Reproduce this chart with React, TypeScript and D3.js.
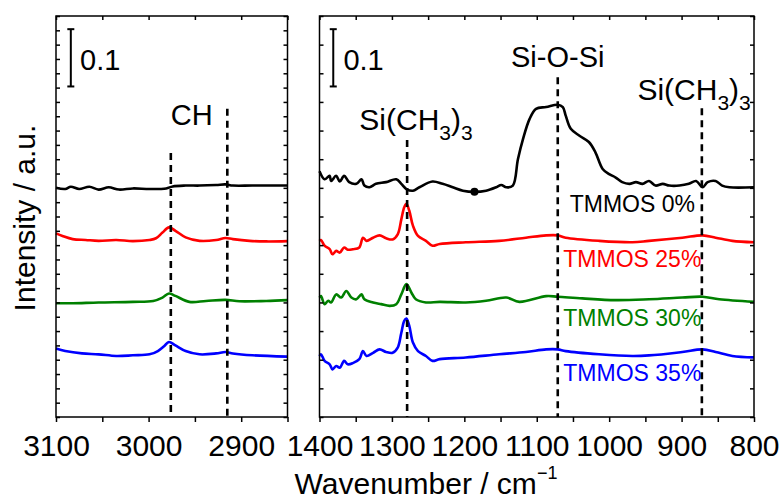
import React, { useRef, useEffect } from 'react';
import * as d3 from 'd3';

// Spectra, [wavenumber, intensity (offset)]
const leftBlack = [
  [3100, 0.4], [3090, 0.398], [3084, 0.402], [3075, 0.398], [3064, 0.402], [3054, 0.397],
  [3043, 0.401], [3032, 0.397], [3017, 0.399], [2999, 0.398], [2981, 0.399], [2974, 0.4025],
  [2960, 0.404], [2945, 0.404], [2927, 0.405], [2917, 0.406], [2909, 0.404], [2888, 0.404], [2850, 0.404],
];
const leftRed = [
  [3100, 0.3205], [3093, 0.316], [3082, 0.3105], [3068, 0.309], [3054, 0.3075], [3035, 0.309],
  [3017, 0.307], [2999, 0.309], [2992, 0.312], [2985, 0.322], [2978, 0.331], [2971, 0.325],
  [2960, 0.3135], [2945, 0.3075], [2927, 0.309], [2917, 0.3125], [2909, 0.3105], [2891, 0.3075],
  [2873, 0.3065], [2850, 0.307],
];
const leftGreen = [
  [3100, 0.1986], [3082, 0.1986], [3054, 0.2], [3017, 0.201], [2995, 0.2026], [2985, 0.2085],
  [2978, 0.2156], [2971, 0.2114], [2956, 0.201], [2938, 0.2026], [2917, 0.2044], [2902, 0.202],
  [2873, 0.2026], [2850, 0.204],
];
const leftBlue = [
  [3100, 0.1194], [3090, 0.1152], [3072, 0.111], [3054, 0.1094], [3035, 0.1065], [3017, 0.1077],
  [2999, 0.1094], [2990, 0.1152], [2983, 0.124], [2978, 0.131], [2971, 0.125], [2960, 0.1152],
  [2945, 0.1094], [2927, 0.111], [2917, 0.1135], [2909, 0.111], [2888, 0.1077], [2850, 0.1054],
];

const rightBlack = [
  [1400, 0.429], [1393, 0.415], [1386, 0.421], [1384, 0.412], [1377, 0.421], [1372, 0.411],
  [1366, 0.421], [1359, 0.41], [1349, 0.407], [1342, 0.415], [1338, 0.404], [1331, 0.401],
  [1322, 0.407], [1308, 0.41], [1294, 0.415], [1287, 0.407], [1280, 0.398], [1271, 0.395],
  [1262, 0.401], [1244, 0.411], [1230, 0.407], [1216, 0.401], [1202, 0.395], [1186, 0.393],
  [1170, 0.395], [1156, 0.401], [1149, 0.405], [1142, 0.401], [1133, 0.404], [1126, 0.45],
  [1119, 0.485], [1110, 0.52], [1101, 0.538], [1087, 0.541], [1071, 0.545], [1064, 0.541],
  [1060, 0.526], [1053, 0.503], [1041, 0.491], [1028, 0.48], [1019, 0.462], [1009, 0.433],
  [1000, 0.424], [991, 0.418], [982, 0.41], [972, 0.407], [963, 0.41], [954, 0.407],
  [945, 0.412], [936, 0.404], [926, 0.407], [917, 0.404], [903, 0.404], [890, 0.407],
  [880, 0.412], [871, 0.401], [864, 0.41], [853, 0.412], [844, 0.404], [834, 0.401], [800, 0.401],
];
const rightRed = [
  [1400, 0.3075], [1398, 0.309], [1393, 0.299], [1386, 0.293], [1382, 0.284], [1377, 0.29],
  [1372, 0.287], [1366, 0.296], [1361, 0.292], [1354, 0.293], [1345, 0.296], [1340, 0.313],
  [1335, 0.3075], [1326, 0.313], [1317, 0.317], [1308, 0.312], [1299, 0.31], [1292, 0.319],
  [1287, 0.345], [1283, 0.366], [1280, 0.372], [1276, 0.36], [1271, 0.334], [1264, 0.316],
  [1253, 0.3075], [1244, 0.299], [1234, 0.302], [1198, 0.305], [1152, 0.3075], [1115, 0.313],
  [1087, 0.317], [1071, 0.317], [1060, 0.313], [1014, 0.3075], [968, 0.305], [945, 0.3075],
  [899, 0.313], [871, 0.317], [853, 0.313], [830, 0.3075], [800, 0.305],
];
const rightGreen = [
  [1400, 0.2085], [1398, 0.211], [1393, 0.197], [1388, 0.203], [1384, 0.2], [1377, 0.214],
  [1370, 0.2085], [1363, 0.22], [1356, 0.2085], [1349, 0.2055], [1342, 0.214], [1338, 0.2055],
  [1326, 0.2], [1315, 0.197], [1303, 0.194], [1294, 0.197], [1287, 0.214], [1280, 0.232],
  [1273, 0.217], [1267, 0.2055], [1253, 0.2], [1234, 0.201], [1198, 0.2], [1170, 0.203],
  [1142, 0.2085], [1124, 0.201], [1087, 0.211], [1071, 0.21], [1037, 0.207], [991, 0.204],
  [945, 0.2055], [899, 0.2085], [871, 0.21], [848, 0.2055], [800, 0.201],
];
const rightBlue = [
  [1400, 0.1065], [1398, 0.1095], [1393, 0.098], [1386, 0.092], [1382, 0.083], [1377, 0.089],
  [1372, 0.086], [1366, 0.098], [1361, 0.092], [1354, 0.094], [1345, 0.101], [1340, 0.115],
  [1335, 0.1065], [1326, 0.112], [1317, 0.118], [1308, 0.1135], [1299, 0.112], [1292, 0.121],
  [1287, 0.147], [1283, 0.168], [1280, 0.172], [1276, 0.159], [1271, 0.13], [1264, 0.115],
  [1253, 0.1065], [1244, 0.098], [1234, 0.101], [1198, 0.104], [1152, 0.1095], [1115, 0.1135],
  [1087, 0.118], [1071, 0.118], [1060, 0.115], [1014, 0.1095], [968, 0.1065], [945, 0.1075],
  [899, 0.1135], [871, 0.118], [853, 0.1135], [830, 0.1065], [800, 0.104],
];

const seriesNames = ['TMMOS 0%', 'TMMOS 25%', 'TMMOS 30%', 'TMMOS 35%'];
const seriesColors = ['#000000', '#ff0000', '#008000', '#0000ff'];
const seriesLabelY = [0.358, 0.262, 0.158, 0.062];

// dashed guide lines [wavenumber, top]
const leftGuides = [[2976, 0.461], [2915, 0.538]];
const rightGuides = [[1279, 0.4835], [1071, 0.593], [872, 0.539]];

// stray marker on the 0% trace
const dotPoint = [1186, 0.393];

const FONT = 'Liberation Sans, Arial, Helvetica, sans-serif';

const App = () => {
  const chartRef = useRef(null);

  useEffect(() => {
    const svg = d3.select(chartRef.current);
    svg.selectAll('*').remove();

    const top = 16;
    const bottom = 417;
    const y = d3.scaleLinear().domain([0, 0.7]).range([bottom, top]);
    const xLeft = d3.scaleLinear().domain([3100, 2850]).range([56, 287.5]);
    const xRight = d3.scaleLinear().domain([1400, 800]).range([319.5, 754]);

    const line = (x) =>
      d3.line().x((d) => x(d[0])).y((d) => y(d[1])).curve(d3.curveCatmullRom.alpha(0.5));

    const drawPanel = (x, xTicks, yStep, traces, guides) => {
      const [x0, x1] = x.range();
      const g = svg.append('g');

      // traces
      traces.forEach((t, i) => {
        g.append('path')
          .datum(t)
          .attr('d', line(x))
          .attr('fill', 'none')
          .attr('stroke', seriesColors[i])
          .attr('stroke-width', 2.6)
          .attr('stroke-linejoin', 'round');
      });

      // dashed guides
      guides.forEach((d) => {
        g.append('line')
          .attr('x1', x(d[0])).attr('x2', x(d[0]))
          .attr('y1', y(d[1])).attr('y2', bottom)
          .attr('stroke', '#000')
          .attr('stroke-width', 2.6)
          .attr('stroke-dasharray', '7,5');
      });

      // frame
      g.append('rect')
        .attr('x', x0).attr('y', top)
        .attr('width', x1 - x0).attr('height', bottom - top)
        .attr('fill', 'none').attr('stroke', '#000').attr('stroke-width', 1.5);

      const yTicks = d3.range(0, 0.7001, yStep);

      const bx = g.append('g').attr('transform', `translate(0,${bottom})`)
        .call(d3.axisBottom(x).tickValues(xTicks).tickSize(5).tickPadding(13)
          .tickFormat((d) => (d % 100 === 0 ? d : '')));
      bx.selectAll('text').style('font-family', FONT).style('font-size', '30px').attr('fill', '#000');

      g.append('g').attr('transform', `translate(0,${top})`)
        .call(d3.axisTop(x).tickValues(xTicks).tickSize(-4).tickFormat(''));
      g.append('g').attr('transform', `translate(${x0},0)`)
        .call(d3.axisLeft(y).tickValues(yTicks).tickSize(-4).tickFormat(''));
      g.append('g').attr('transform', `translate(${x1},0)`)
        .call(d3.axisRight(y).tickValues(yTicks).tickSize(-4).tickFormat(''));

      g.selectAll('.domain').remove();
      g.selectAll('.tick line').attr('stroke', '#000').attr('stroke-width', 1.5);
      return g;
    };

    const left = drawPanel(xLeft, d3.range(3100, 2849, -50), 0.025,
      [leftBlack, leftRed, leftGreen, leftBlue], leftGuides);
    const right = drawPanel(xRight, d3.range(1400, 799, -50), 0.05,
      [rightBlack, rightRed, rightGreen, rightBlue], rightGuides);

    right.append('circle')
      .attr('cx', xRight(dotPoint[0])).attr('cy', y(dotPoint[1])).attr('r', 4).attr('fill', '#000');

    // 0.1 scale bars
    const scaleBar = (g, x, xb, xt) => {
      const yb = y(0.577);
      const yt = y(0.677);
      const px = x(xb);
      g.append('line').attr('x1', px).attr('x2', px).attr('y1', yb).attr('y2', yt)
        .attr('stroke', '#000').attr('stroke-width', 2);
      [yb, yt].forEach((v) => {
        g.append('line').attr('x1', px - 3.5).attr('x2', px + 3.5).attr('y1', v).attr('y2', v)
          .attr('stroke', '#000').attr('stroke-width', 2);
      });
      g.append('text').attr('x', x(xt)).attr('y', y(0.606))
        .style('font-family', FONT).style('font-size', '29px').text('0.1');
    };
    scaleBar(left, xLeft, 3084, 3074);
    scaleBar(right, xRight, 1381, 1367);

    // peak labels
    left.append('text').attr('x', xLeft(2976)).attr('y', y(0.51))
      .style('font-family', FONT).style('font-size', '29px').text('CH');
    right.append('text').attr('x', xRight(1071)).attr('y', y(0.611)).attr('text-anchor', 'middle')
      .style('font-family', FONT).style('font-size', '29px').text('Si-O-Si');

    const siLabel = (wn, v) => {
      const t = right.append('text').attr('x', xRight(wn)).attr('y', y(v))
        .style('font-family', FONT).style('font-size', '30px');
      t.append('tspan').text('Si(CH');
      t.append('tspan').attr('dy', 10).style('font-size', '21px').text('3');
      t.append('tspan').attr('dy', -10).text(')');
      t.append('tspan').attr('dy', 10).style('font-size', '21px').text('3');
    };
    siLabel(1345, 0.501);
    siLabel(961, 0.553);

    // series labels
    seriesNames.forEach((name, i) => {
      right.append('text').attr('x', xRight(968)).attr('y', y(seriesLabelY[i]))
        .attr('text-anchor', 'middle').attr('fill', seriesColors[i])
        .style('font-family', FONT).style('font-size', '23px').text(name);
    });

    // axis titles
    svg.append('text').attr('transform', `translate(35,218) rotate(-90)`)
      .attr('text-anchor', 'middle')
      .style('font-family', FONT).style('font-size', '30px').text('Intensity / a.u.');

    const xt = svg.append('text').attr('x', 426).attr('y', 494).attr('text-anchor', 'middle')
      .style('font-family', FONT).style('font-size', '30px');
    xt.append('tspan').text('Wavenumber / cm');
    xt.append('tspan').attr('dy', -15).style('font-size', '18px').text('\u22121');
  }, []);

  return (
    <svg
      ref={chartRef}
      width={781}
      height={501}
      style={{ position: 'absolute', left: 0, top: 0, background: '#fff' }}
    />
  );
};

export default App;
